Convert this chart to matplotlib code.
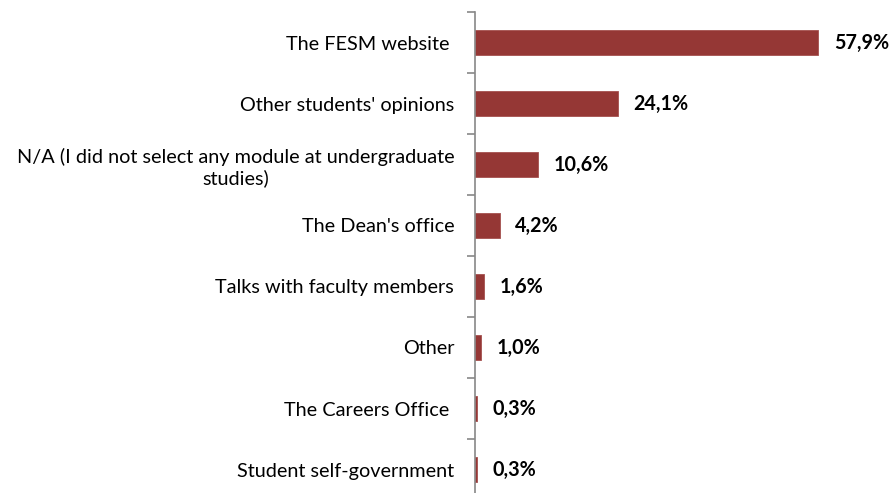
import numpy as np
import matplotlib.pyplot as plt

categories = [
    "The FESM website ",
    "Other students' opinions",
    "N/A (I did not select any module at undergraduate\nstudies)",
    "The Dean's office",
    "Talks with faculty members",
    "Other",
    "The Careers Office ",
    "Student self-government",
]
values = [57.9, 24.1, 10.6, 4.2, 1.6, 1.0, 0.3, 0.3]
value_labels = ["57,9%", "24,1%", "10,6%", "4,2%", "1,6%", "1,0%", "0,3%", "0,3%"]

plt.rcParams['font.family'] = ['Lato', 'DejaVu Sans']

fig = plt.figure(figsize=(8.9, 4.93), dpi=100)
ax = fig.add_axes([475 / 890, -7 / 493, 415 / 890, 488 / 493])

y = np.arange(len(categories))
ax.barh(y, values, height=0.41, color='#953735', edgecolor='#a4504e', linewidth=0.6)

for yi, v, lab in zip(y, values, value_labels):
    ax.text(v + 2.6, yi, lab, va='center', ha='left', fontsize=14.2, fontweight='bold')

ax.set_xlim(0, 70)
ax.set_ylim(len(categories) - 0.5, -0.5)

# labels at bar centers, tick marks at category boundaries
ax.set_yticks(y)
ax.set_yticklabels(categories, fontsize=14.3, multialignment='center')
ax.tick_params(axis='y', which='major', length=0, pad=15)
ax.set_yticks(np.arange(len(categories) + 1) - 0.5, minor=True)
ax.tick_params(axis='y', which='minor', length=6, width=1.2, color='#888888')

ax.set_xticks([])
for side in ['top', 'right', 'bottom']:
    ax.spines[side].set_visible(False)
ax.spines['left'].set_color('#888888')
ax.spines['left'].set_linewidth(1.2)

fig.savefig('out.png', dpi=100)
